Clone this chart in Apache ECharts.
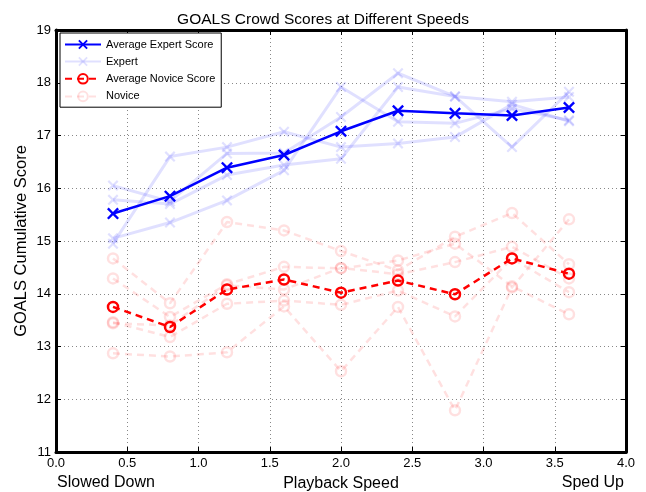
<!DOCTYPE html>
<html>
<head>
<meta charset="utf-8">
<script src="https://cdn.jsdelivr.net/npm/echarts@6/dist/echarts.min.js"></script>
<style>
html,body{margin:0;padding:0;background:#fff;}
#chart{width:646px;height:492px;}
</style>
</head>
<body>
<div id="chart"></div>
<script>
// ---- data ----
const speeds = [0.4, 0.8, 1.2, 1.6, 2.0, 2.4, 2.8, 3.2, 3.6];
const expertAvg = [15.52, 15.85, 16.39, 16.63, 17.08, 17.47, 17.42, 17.38, 17.53];
const noviceAvg = [13.75, 13.37, 14.08, 14.27, 14.02, 14.25, 13.99, 14.67, 14.38];
const expert1 = [16.05, 15.75, 16.66, 16.67, 17.35, 18.18, 17.74, 16.78, 17.83];
const expert2 = [15.78, 15.70, 16.25, 16.44, 16.56, 17.92, 17.74, 17.64, 17.73];
const expert3 = [14.95, 16.60, 16.78, 17.07, 16.78, 16.85, 16.97, 17.59, 17.27];
const expert4 = [15.05, 15.35, 15.77, 16.34, 17.92, 17.26, 17.23, 17.51, 17.29];
const novice1 = [14.67, 13.82, 15.36, 15.20, 14.81, 14.44, 15.08, 15.53, 14.56];
const novice2 = [14.29, 13.56, 14.18, 14.51, 14.48, 14.63, 14.95, 14.14, 13.61];
const novice3 = [13.44, 13.40, 14.16, 14.08, 14.49, 14.37, 14.60, 14.89, 14.29];
const novice4 = [13.46, 13.18, 13.81, 13.87, 13.79, 14.06, 13.57, 14.67, 14.03];
const novice5 = [12.87, 12.81, 12.89, 13.76, 12.53, 13.75, 11.79, 14.12, 15.41];
const expertRuns = [expert1, expert2, expert3, expert4];
const noviceRuns = [novice1, novice2, novice3, novice4, novice5];

const pairs = ys => speeds.map((x, i) => [x, ys[i]]);
const XSYM = 'path://M0,14L14,0L50,36L86,0L100,14L64,50L100,86L86,100L50,64L14,100L0,86L36,50Z';
const FONT = 'Liberation Sans';

const series = [];
expertRuns.forEach(r => series.push({
  name: 'Expert', type: 'line', data: pairs(r), z: 2,
  symbol: XSYM, symbolSize: 11, symbolKeepAspect: true,
  lineStyle: {color: 'rgba(0,0,255,0.12)', width: 3},
  itemStyle: {color: 'rgba(0,0,255,0.12)'}
}));
noviceRuns.forEach(r => series.push({
  name: 'Novice', type: 'line', data: pairs(r), z: 2,
  symbol: 'circle', symbolSize: 10,
  lineStyle: {color: 'rgba(255,0,0,0.12)', width: 2.5, type: [7, 5]},
  itemStyle: {color: 'rgba(255,255,255,0)', borderColor: 'rgba(255,0,0,0.12)', borderWidth: 2.5}
}));
series.push({
  name: 'Average Expert Score', type: 'line', data: pairs(expertAvg), z: 5,
  symbol: XSYM, symbolSize: 12, symbolKeepAspect: true,
  lineStyle: {color: '#0000ff', width: 2.5},
  itemStyle: {color: '#0000ff'}
});
series.push({
  name: 'Average Novice Score', type: 'line', data: pairs(noviceAvg), z: 5,
  symbol: 'circle', symbolSize: 10,
  lineStyle: {color: '#ff0000', width: 2.5, type: [7, 5]},
  itemStyle: {color: 'rgba(255,255,255,0)', borderColor: '#ff0000', borderWidth: 2.5}
});

const axisCommon = {
  axisLine: {show: true, onZero: false, lineStyle: {color: '#000', width: 3}},
  axisTick: {show: true, inside: true, length: 5, lineStyle: {color: '#000', width: 1}}
};
const gridLine = {show: true, lineStyle: {color: '#888', width: 1, type: [1, 3]}};

const chart = echarts.init(document.getElementById('chart'), null, {renderer: 'canvas'});
chart.setOption({
  animation: false,
  backgroundColor: '#fff',
  textStyle: {fontFamily: FONT},
  title: {
    text: 'GOALS Crowd Scores at Different Speeds', left: 'center', top: 7,
    textStyle: {fontFamily: FONT, fontSize: 15.5, fontWeight: 'normal', color: '#000'}
  },
  grid: {left: 56, right: 20, top: 30, bottom: 40, containLabel: false, outerBoundsMode: 'none'},
  legend: {
    orient: 'vertical', left: 60, top: 33,
    data: ['Average Expert Score', 'Expert', 'Average Novice Score', 'Novice'],
    backgroundColor: '#fff', borderColor: '#000', borderWidth: 1, borderRadius: 0,
    padding: [6, 6, 5, 4], itemWidth: 36, itemHeight: 12, itemGap: 6,
    textStyle: {fontFamily: FONT, fontSize: 11, color: '#000'}
  },
  xAxis: [{
    type: 'value', min: 0, max: 4, interval: 0.5, position: 'bottom',
    name: 'Playback Speed', nameLocation: 'middle', nameGap: 24,
    nameTextStyle: {fontFamily: FONT, fontSize: 16, color: '#000'},
    axisLabel: {color: '#000', fontSize: 13, fontFamily: FONT, margin: 5, formatter: v => v.toFixed(1)},
    splitLine: gridLine, ...axisCommon
  }, {
    type: 'value', min: 0, max: 4, interval: 0.5, position: 'top',
    axisLabel: {show: false}, splitLine: {show: false}, ...axisCommon
  }],
  yAxis: [{
    type: 'value', min: 11, max: 19, interval: 1, position: 'left',
    name: 'GOALS Cumulative Score', nameLocation: 'middle', nameGap: 26, nameMoveOverlap: false,
    nameTextStyle: {fontFamily: FONT, fontSize: 16.5, color: '#000'},
    axisLabel: {color: '#000', fontSize: 13, fontFamily: FONT, margin: 5},
    splitLine: gridLine, ...axisCommon
  }, {
    type: 'value', min: 11, max: 19, interval: 1, position: 'right',
    axisLabel: {show: false}, splitLine: {show: false}, ...axisCommon
  }],
  graphic: [
    {type: 'text', left: 57, top: 475, style: {text: 'Slowed Down', font: '16px "Liberation Sans"', fill: '#000'}},
    {type: 'text', right: 22, top: 475, style: {text: 'Sped Up', font: '16px "Liberation Sans"', fill: '#000'}}
  ],
  series: series
});
</script>
</body>
</html>
